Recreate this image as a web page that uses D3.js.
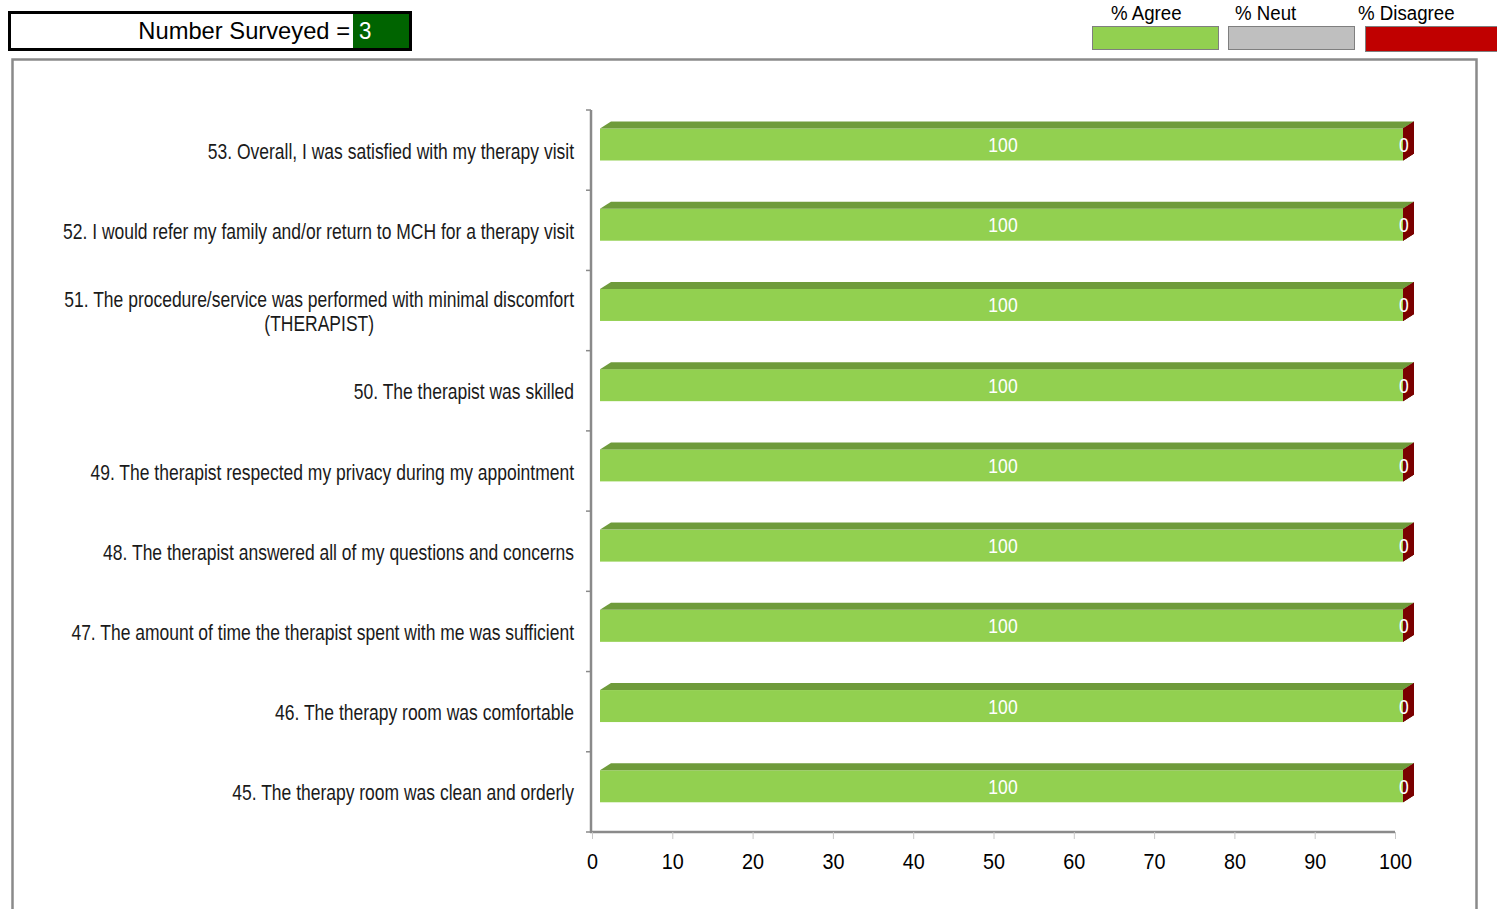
<!DOCTYPE html>
<html><head><meta charset="utf-8">
<script src="https://cdn.jsdelivr.net/npm/d3@7"></script>
<style>
html,body{margin:0;padding:0;background:#fff;overflow:hidden}
svg{display:block}
</style></head>
<body>
<script>
// ---- data ----
const categories = [
  "53. Overall, I was satisfied with my therapy visit",
  "52. I would refer my family and/or return to MCH for a therapy visit",
  "51. The procedure/service was performed with minimal discomfort\n(THERAPIST)",
  "50. The therapist was skilled",
  "49. The therapist respected my privacy during my appointment",
  "48. The therapist answered all of my questions and concerns",
  "47. The amount of time the therapist spent with me was sufficient",
  "46. The therapy room was comfortable",
  "45. The therapy room was clean and orderly"
];
const agree    = [100,100,100,100,100,100,100,100,100];
const neutral  = [0,0,0,0,0,0,0,0,0];
const disagree = [0,0,0,0,0,0,0,0,0];
const seriesNames = ["% Agree","% Neut","% Disagree"];
const xTicks = [0,10,20,30,40,50,60,70,80,90,100];
const numberSurveyed = 3;

// ---- styles ----
const SANS = "'Liberation Sans',Arial,sans-serif";
const front = ["#92D050","#BFBFBF","#C00000"];
const topC  = ["#6F9B3B","#8F8F8F","#900000"];
const sideC = ["#77A83F","#9A9A9A","#7A0000"];

const W = 1497, H = 909;
const svg = d3.select("body").append("svg").attr("width", W).attr("height", H);

// condensed text helper: scales horizontally around anchor
function ctext(parent, x, y, str, size, sx, anchor, fill) {
  return parent.append("text")
    .attr("transform", `translate(${x},${y}) scale(${sx},1)`)
    .attr("font-family", SANS).attr("font-size", size)
    .attr("text-anchor", anchor || "start").attr("fill", fill || "#000")
    .text(str);
}

// outer chart frame
svg.append("rect").attr("x",12.5).attr("y",59.5).attr("width",1464).attr("height",880)
  .attr("fill","#fff").attr("stroke","#8a8a8a").attr("stroke-width",2.5);

// Number surveyed box
svg.append("rect").attr("x",9.5).attr("y",12.5).attr("width",401).attr("height",37)
  .attr("fill","#fff").attr("stroke","#000").attr("stroke-width",3);
svg.append("rect").attr("x",353).attr("y",14).attr("width",56).attr("height",34).attr("fill","#006400");
ctext(svg, 350, 38.5, "Number Surveyed =", 23.5, 1.01, "end", "#000");
ctext(svg, 359, 38.5, String(numberSurveyed), 23.5, 0.95, "start", "#fff");

// legend
const legX = [1092,1228,1365];
const legTextX = [1111,1235,1358];
seriesNames.forEach((n,i)=>{
  svg.append("rect").attr("x",legX[i]+0.5).attr("y",26.5).attr("width",i==2?133:126).attr("height",i==2?25:23)
    .attr("fill",front[i]).attr("stroke","#7f7f7f").attr("stroke-width",1);
  ctext(svg, legTextX[i], 19.5, n, 21, 0.89, "start", "#000");
});

// scales
const x = d3.scaleLinear().domain([0,100]).range([592,1395]);
const y = d3.scaleBand().domain(categories).range([110,832]).padding(0);
const DX = 11, DY = 7, OFFX = 8, BAR_OFF = 18.5, BAR_H = 32;

// axes
const xAxis = d3.axisBottom(x).tickValues(xTicks).tickSize(7).tickSizeOuter(0).tickFormat(()=>"");
const gx = svg.append("g").attr("transform","translate(0,832)").call(xAxis);
gx.select(".domain").attr("stroke","#8a8a8a").attr("stroke-width",2.5).attr("d","M590,0H1395");
gx.selectAll(".tick line").attr("stroke","#c8c8c8").attr("stroke-width",1);
gx.selectAll(".tick").each(function(d){
  ctext(d3.select(this), 0, 37, d3.format("d")(d), 22, 0.9, "middle", "#000");
});

const gy = svg.append("g").attr("transform","translate(591,0)");
gy.append("line").attr("x1",0).attr("x2",0).attr("y1",110).attr("y2",833).attr("stroke","#8a8a8a").attr("stroke-width",2.5);
const bounds = categories.map(c=>y(c)).concat([y.range()[1]]);
gy.selectAll("line.t").data(bounds).join("line").attr("class","t")
  .attr("x1",-5).attr("x2",0).attr("y1",d=>d).attr("y2",d=>d).attr("stroke","#8a8a8a").attr("stroke-width",1.5);

// category labels
const LSX = 0.795, LFS = 22;
categories.forEach(c=>{
  const lines = c.split("\n");
  const cy = y(c) + y.bandwidth()/2;
  if (lines.length === 1) {
    ctext(svg, 574, cy+8.5, lines[0], LFS, LSX, "end", "#1a1a1a");
  } else {
    const tmp = ctext(svg, 0, 0, lines[0], LFS, LSX, "start");
    const w = tmp.node().getComputedTextLength() * LSX; tmp.remove();
    const mid = 574 - w/2;
    lines.forEach((l,k)=>{
      ctext(svg, mid, cy + 8.5 + (k - (lines.length-1)/2)*24, l, LFS, LSX, "middle", "#1a1a1a");
    });
  }
});

// stacked 3D bars
const seriesVals = [agree, neutral, disagree];
const bars = svg.append("g");
categories.forEach((c,ci)=>{
  let cum = 0;
  const yF = y(c) + BAR_OFF;
  seriesVals.forEach((vals,si)=>{
    const v = vals[ci];
    const x0 = x(cum) + OFFX, x1 = x(cum+v) + OFFX;
    cum += v;
    const g = bars.append("g");
    if (x1 > x0) {
      g.append("rect").attr("x",x0).attr("y",yF).attr("width",x1-x0).attr("height",BAR_H).attr("fill",front[si]);
      g.append("polygon").attr("points",[[x0,yF],[x0+DX,yF-DY],[x1+DX,yF-DY],[x1,yF]].join(" ")).attr("fill",topC[si]);
    }
    g.append("polygon").attr("points",[[x1,yF],[x1+DX,yF-DY],[x1+DX,yF+BAR_H-DY],[x1,yF+BAR_H]].join(" "))
      .attr("fill", sideC[si]);
  });
});
// final side face of the last segment on top
categories.forEach((c,ci)=>{
  const yF = y(c) + BAR_OFF;
  const x1 = x(agree[ci]+neutral[ci]+disagree[ci]) + OFFX;
  bars.append("polygon").attr("points",[[x1,yF],[x1+DX,yF-DY],[x1+DX,yF+BAR_H-DY],[x1,yF+BAR_H]].join(" "))
    .attr("fill", sideC[2]);
});

// value labels
const labels = svg.append("g");
categories.forEach((c,ci)=>{
  const cy = y(c) + BAR_OFF + BAR_H/2 + 7.5;
  ctext(labels, x(agree[ci]/2)+OFFX + 1.5, cy, String(agree[ci]), 19.5, 0.9, "middle", "#fff");
  const dmid = agree[ci]+neutral[ci]+disagree[ci]/2;
  ctext(labels, x(dmid)+OFFX + 1, cy, String(disagree[ci]), 19.5, 0.9, "middle", "#fff");
});
</script>
</body></html>
